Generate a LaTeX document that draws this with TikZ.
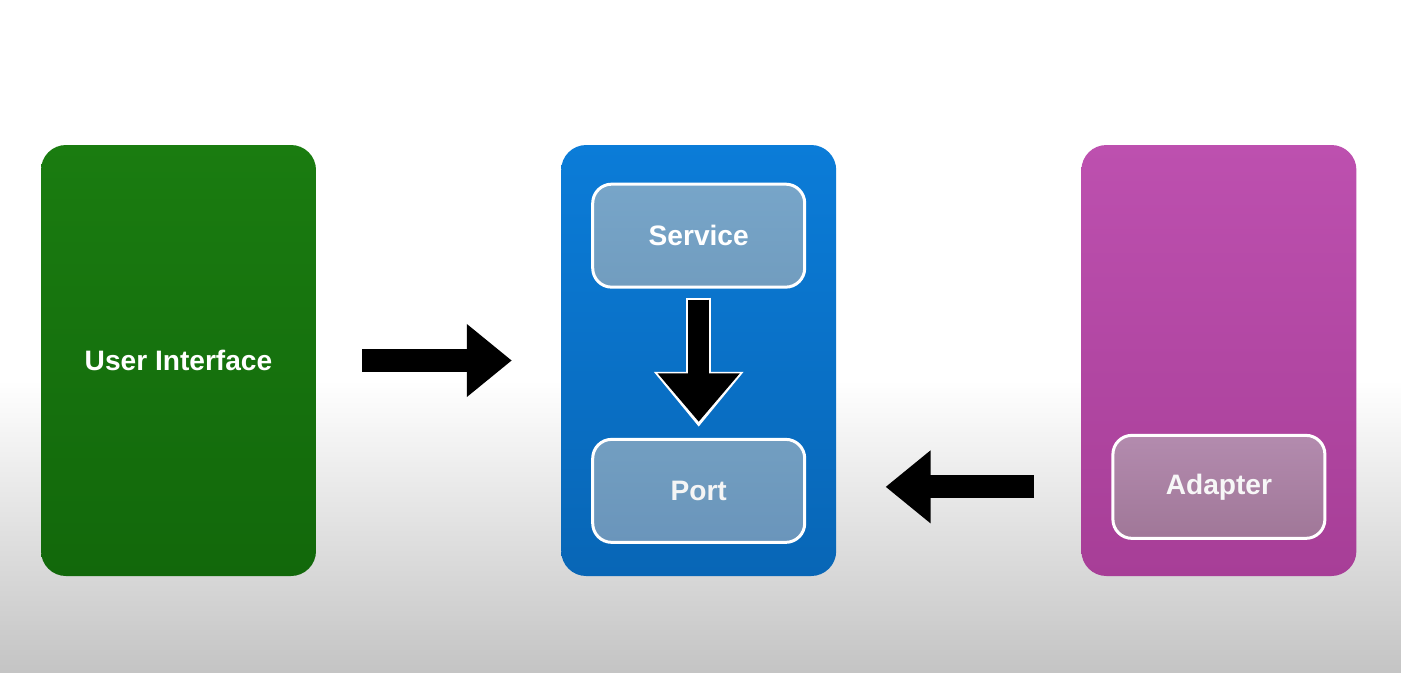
\documentclass[tikz,border=0pt]{standalone}
\usepackage{fontspec}
\setmainfont{Liberation Sans}
\usepackage{xcolor}
\usetikzlibrary{arrows.meta, positioning}

\definecolor{uigreen}{HTML}{1A7C10}
\definecolor{uigreendk}{HTML}{12680B}
\definecolor{coreblue}{HTML}{0B7CD8}
\definecolor{corebluedk}{HTML}{0866B6}
\definecolor{infrapink}{HTML}{BD50AF}
\definecolor{infrapinkdk}{HTML}{A73E97}
\definecolor{svcblue}{HTML}{77A5C9}
\definecolor{svcbluedk}{HTML}{6A95BB}
\definecolor{adaptpink}{HTML}{B38BAE}
\definecolor{adaptpinkdk}{HTML}{A07798}
\definecolor{floorgray}{HTML}{C4C4C4}

\begin{document}
\begin{tikzpicture}[node distance=4.89cm,
  layer/.style={rectangle, rounded corners=0.5cm, minimum width=5.5cm, minimum height=8.62cm, inner sep=0pt, text=white, font=\bfseries\fontsize{16}{19}\selectfont},
  part/.style={rectangle, draw=white, line width=0.06cm, rounded corners=0.38cm, minimum width=4.24cm, minimum height=2.06cm, inner sep=0pt, text=white, font=\bfseries\fontsize{16}{19}\selectfont},
  flow/.style={line width=0.46cm, -{Triangle[length=0.9cm, width=1.4cm]}}]
  % backdrop
  \fill[white] (0,0) rectangle (28.02,-13.44);
  \shade[top color=white, bottom color=floorgray] (0,-7.6) rectangle (28.02,-13.44);
  \useasboundingbox (0,0) rectangle (28.02,-13.44);

  \node[layer, top color=uigreen, bottom color=uigreendk] (ui) at (3.57,-7.21) {User Interface};
  \node[layer, top color=coreblue, bottom color=corebluedk, right=of ui] (core) {};
  \node[layer, top color=infrapink, bottom color=infrapinkdk, right=of core] (infra) {};

  \node[part, top color=svcblue, bottom color=svcblue!95!black, below=0.76cm of core.north] (svc) {Service};
  \node[part, top color=svcblue!96!black, bottom color=svcbluedk, above=0.65cm of core.south] (port) {\textcolor{white!92!gray}{Port}};
  \node[part, top color=adaptpink, bottom color=adaptpinkdk, above=0.73cm of infra.south] (adapter) {\textcolor{white!94!gray}{Adapter}};

  \draw[flow, shorten <=0.92cm, shorten >=0.98cm] (ui) -- (core);
  \draw[flow, shorten <=0.94cm, shorten >=0.98cm] (infra.west |- adapter) -- (core.east |- adapter);
  % white rim, then the black arrow
  \draw[white, line width=0.5cm, -{Triangle[length=1.1cm, width=1.72cm]}, shorten <=0.18cm, shorten >=0.22cm] (svc) -- (port);
  \draw[line width=0.42cm, -{Triangle[length=0.97cm, width=1.58cm]}, shorten <=0.22cm, shorten >=0.32cm] (svc) -- (port);
\end{tikzpicture}
\end{document}
